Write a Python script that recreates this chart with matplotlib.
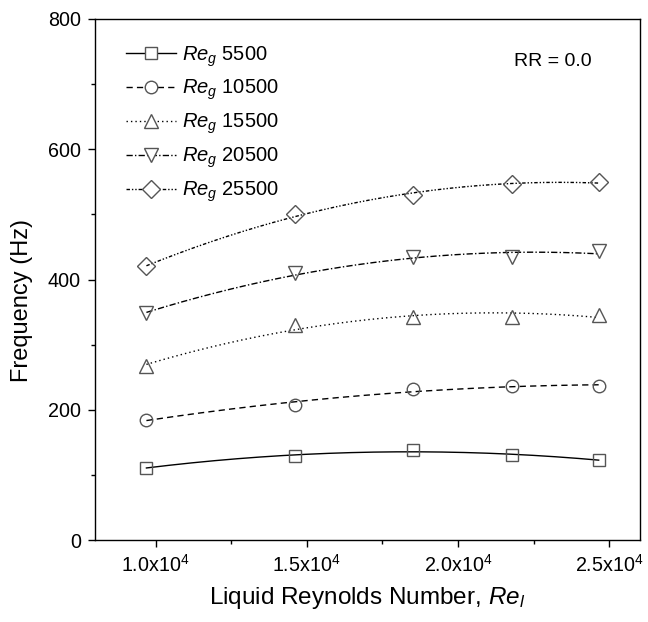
import numpy as np
import matplotlib
matplotlib.use("Agg")
import matplotlib.pyplot as plt
from matplotlib.lines import Line2D
from matplotlib.ticker import MultipleLocator

plt.rcParams['font.family'] = ['Liberation Sans', 'DejaVu Sans']
plt.rcParams['mathtext.fontset'] = 'custom'
plt.rcParams['mathtext.rm'] = 'Liberation Sans'
plt.rcParams['mathtext.it'] = 'Liberation Sans:italic'
plt.rcParams['mathtext.bf'] = 'Liberation Sans:bold'

# ---- data ----
re_l = [9700, 14600, 18500, 21800, 24650]
freq_5500 = [111, 129, 138, 130, 123]
freq_10500 = [185, 207, 232, 236, 237]
freq_15500 = [267, 330, 342, 342, 346]
freq_20500 = [348, 410, 434, 435, 443]
freq_25500 = [420, 500, 530, 547, 549]
series_labels = [r"$Re_g$ 5500", r"$Re_g$ 10500", r"$Re_g$ 15500",
                 r"$Re_g$ 20500", r"$Re_g$ 25500"]
x_ticks = [10000, 15000, 20000, 25000]
x_tick_labels = [r"1.0x10$^{4}$", r"1.5x10$^{4}$", r"2.0x10$^{4}$", r"2.5x10$^{4}$"]
y_ticks = [0, 200, 400, 600, 800]

series = [freq_5500, freq_10500, freq_15500, freq_20500, freq_25500]
markers = ['s', 'o', '^', 'v', 'D']
msizes = [8.6, 9.0, 10.5, 10.5, 9.0]
lstyles = ['-', (0, (4.5, 3)), (0, (1, 2.2)), (0, (4.5, 1.6, 1, 1.6)),
           (0, (2.5, 1.4, 1, 1.4, 1, 1.4))]
mec = '#555555'

fig = plt.figure(figsize=(6.48, 6.22), dpi=100)
W, H = 648, 622
ax = fig.add_axes([95 / W, (H - 540) / H, 544.5 / W, 521 / H])

xs = np.array(re_l, dtype=float)
xfine = np.linspace(xs.min(), xs.max(), 200)
handles = []
for ys, m, ms, ls, lab in zip(series, markers, msizes, lstyles, series_labels):
    coef = np.polyfit(xs, np.array(ys, dtype=float), 2)
    ax.plot(xfine, np.polyval(coef, xfine), color='black', lw=1.0, ls=ls)
    ax.plot(xs, ys, ls='none', marker=m, ms=ms, mfc='none', mec=mec, mew=1.0)
    handles.append(Line2D([], [], color='black', lw=1.0, ls=ls, marker=m, ms=ms,
                          mfc='white', mec=mec, mew=1.0, label=lab))

ax.set_xlim(8000, 26000)
ax.set_ylim(0, 800)
ax.set_xticks(x_ticks)
ax.set_xticklabels(x_tick_labels)
ax.set_yticks(y_ticks)
ax.xaxis.set_minor_locator(MultipleLocator(2500))
ax.yaxis.set_minor_locator(MultipleLocator(100))
ax.tick_params(which='both', direction='out', top=False, right=False, width=1.0)
ax.tick_params(which='major', length=5, labelsize=14.2, pad=5)
ax.tick_params(which='minor', length=3)
for sp in ax.spines.values():
    sp.set_linewidth(1.0)

ax.set_xlabel(r"Liquid Reynolds Number, $Re_l$", fontsize=17.5)
ax.set_ylabel("Frequency (Hz)", fontsize=17)
ax.xaxis.set_label_coords(0.5, -0.086)
ax.yaxis.set_label_coords(-0.114, 0.46)

ax.text(0.7695, 0.9098, "RR = 0.0", transform=ax.transAxes, fontsize=14,
        va='baseline', ha='left')

leg = ax.legend(handles=handles, loc='upper left', bbox_to_anchor=(0.0569, 0.952),
                frameon=False, fontsize=14.5, handlelength=2.5, handletextpad=0.3,
                labelspacing=0.47, borderpad=0, borderaxespad=0, numpoints=1)

fig.savefig("out.png", dpi=100)
